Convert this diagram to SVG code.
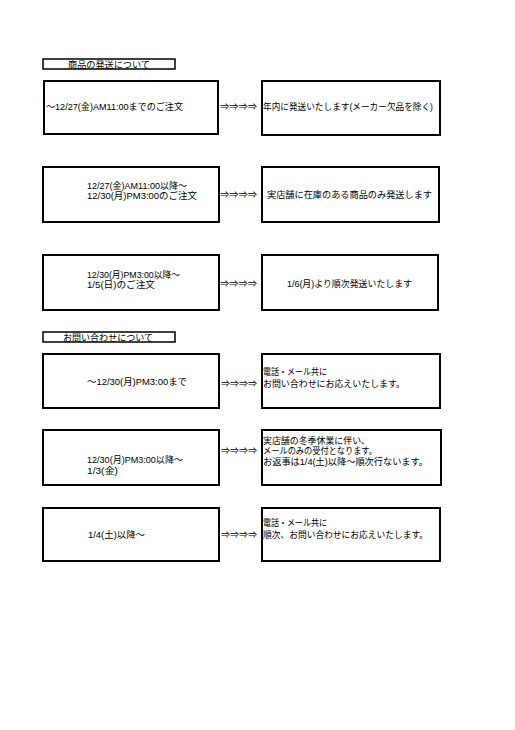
<svg xmlns="http://www.w3.org/2000/svg" width="515" height="730" viewBox="0 0 515 730">
<style>
text{font-family:"Liberation Sans","Noto Sans CJK JP",sans-serif;font-size:9px;fill:#000}
.box{fill:#fff;stroke:#000;stroke-width:2}
.hdr{fill:#fff;stroke:#000;stroke-width:1.5}
.arr{font-size:9px}
</style>
<rect width="515" height="730" fill="#fff"/>
<g id="header1"><rect class="hdr" x="43" y="59" width="132" height="10"/><text x="68" y="67.5" textLength="82" lengthAdjust="spacingAndGlyphs">商品の発送について</text></g>
<g id="header2"><rect class="hdr" x="43" y="332" width="132" height="10"/><text x="63" y="340.5" textLength="90" lengthAdjust="spacingAndGlyphs">お問い合わせについて</text></g>

<g id="l1"><rect class="box" x="44" y="81" width="174" height="53"/><text x="46" y="110" textLength="137" lengthAdjust="spacingAndGlyphs">～12/27(金)AM11:00までのご注文</text></g>
<g id="r1"><rect class="box" x="262" y="81" width="178" height="54"/><text x="263" y="110" textLength="170" lengthAdjust="spacingAndGlyphs">年内に発送いたします(メーカー欠品を除く)</text></g>

<g id="l2"><rect class="box" x="43" y="167" width="176" height="55"/><text x="87" y="188.5" textLength="100" lengthAdjust="spacingAndGlyphs">12/27(金)AM11:00以降～</text><text x="87" y="198.5" textLength="110" lengthAdjust="spacingAndGlyphs">12/30(月)PM3:00のご注文</text></g>
<g id="r2"><rect class="box" x="262" y="167" width="177" height="55"/><text x="267" y="197.5" textLength="165" lengthAdjust="spacingAndGlyphs">実店舗に在庫のある商品のみ発送します</text></g>

<g id="l3"><rect class="box" x="43" y="255" width="176" height="55"/><text x="87" y="277.5" textLength="93" lengthAdjust="spacingAndGlyphs">12/30(月)PM3:00以降～</text><text x="87" y="287.5" textLength="68" lengthAdjust="spacingAndGlyphs">1/5(日)のご注文</text></g>
<g id="r3"><rect class="box" x="262" y="255" width="176" height="55"/><text x="287" y="286.5" textLength="125" lengthAdjust="spacingAndGlyphs">1/6(月)より順次発送いたします</text></g>

<g id="l4"><rect class="box" x="43" y="354" width="176" height="54"/><text x="87" y="384.5" textLength="100" lengthAdjust="spacingAndGlyphs">～12/30(月)PM3:00まで</text></g>
<g id="r4"><rect class="box" x="262" y="354" width="178" height="54"/><text x="263" y="374.5" textLength="64" lengthAdjust="spacingAndGlyphs">電話・メール共に</text><text x="263" y="386.5" textLength="142" lengthAdjust="spacingAndGlyphs">お問い合わせにお応えいたします。</text></g>

<g id="l5"><rect class="box" x="43" y="430" width="176" height="55"/><text x="87" y="462.5" textLength="96" lengthAdjust="spacingAndGlyphs">12/30(月)PM3:00以降～</text><text x="87" y="473.5" textLength="31" lengthAdjust="spacingAndGlyphs">1/3(金)</text></g>
<g id="r5"><rect class="box" x="262" y="430" width="179" height="55"/><text x="263" y="443.5" textLength="107" lengthAdjust="spacingAndGlyphs">実店舗の冬季休業に伴い、</text><text x="263" y="453.5" textLength="114" lengthAdjust="spacingAndGlyphs">メールのみの受付となります。</text><text x="263" y="464.5" textLength="165" lengthAdjust="spacingAndGlyphs">お返事は1/4(土)以降～順次行ないます。</text></g>

<g id="l6"><rect class="box" x="43" y="508" width="176" height="53"/><text x="88" y="537.5" textLength="57" lengthAdjust="spacingAndGlyphs">1/4(土)以降～</text></g>
<g id="r6"><rect class="box" x="262" y="508" width="178" height="53"/><text x="263" y="525.5" textLength="64" lengthAdjust="spacingAndGlyphs">電話・メール共に</text><text x="263" y="537.5" textLength="165" lengthAdjust="spacingAndGlyphs">順次、お問い合わせにお応えいたします。</text></g>

<g id="connectors">
<text class="arr" x="220" y="109.5" textLength="37" lengthAdjust="spacingAndGlyphs">⇒⇒⇒⇒</text>
<text class="arr" x="220" y="198" textLength="37" lengthAdjust="spacingAndGlyphs">⇒⇒⇒⇒</text>
<text class="arr" x="220" y="286.5" textLength="37" lengthAdjust="spacingAndGlyphs">⇒⇒⇒⇒</text>
<text class="arr" x="221" y="386.5" textLength="36" lengthAdjust="spacingAndGlyphs">⇒⇒⇒⇒</text>
<text class="arr" x="221" y="453.5" textLength="36" lengthAdjust="spacingAndGlyphs">⇒⇒⇒⇒</text>
<text class="arr" x="221" y="538" textLength="36" lengthAdjust="spacingAndGlyphs">⇒⇒⇒⇒</text>
</g>
</svg>
